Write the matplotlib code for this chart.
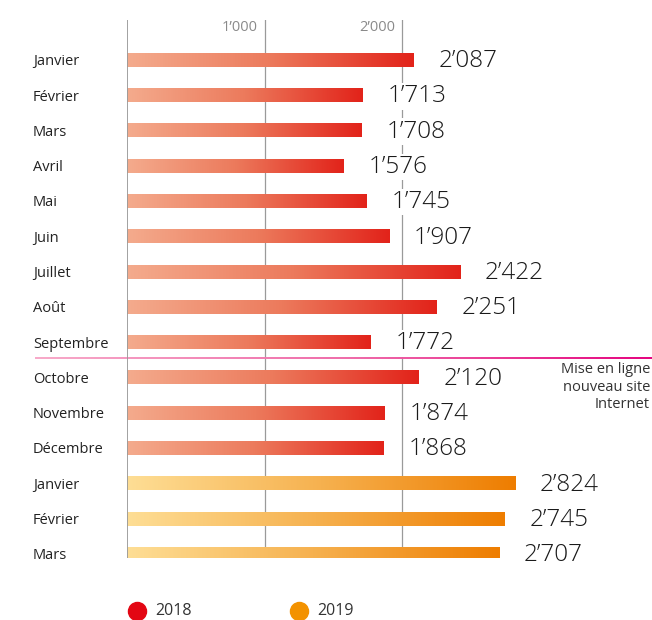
import numpy as np
import matplotlib
matplotlib.use("Agg")
import matplotlib.pyplot as plt
from matplotlib.colors import LinearSegmentedColormap
from matplotlib.collections import LineCollection
from matplotlib.lines import Line2D

months = ["Janvier", "Février", "Mars", "Avril", "Mai", "Juin", "Juillet", "Août",
          "Septembre", "Octobre", "Novembre", "Décembre", "Janvier", "Février", "Mars"]
values = [2087, 1713, 1708, 1576, 1745, 1907, 2422, 2251, 1772, 2120, 1874, 1868,
          2824, 2745, 2707]
years = [2018] * 12 + [2019] * 3
tick_values = [1000, 2000]
legend_years = [2018, 2019]
annotation = "Mise en ligne\nnouveau site\nInternet"

def fmt(v):
    s = f"{v:,}"
    return s.replace(",", "\u2019")

plt.rcParams['font.family'] = ['Open Sans', 'DejaVu Sans']

W, H = 652, 620
fig = plt.figure(figsize=(W / 100, H / 100), dpi=100)
px_per_k = 137.5
x0_px, top_px, bot_px = 127, 20, 558
row0, step = 60, 35.29
ax = fig.add_axes([x0_px / W, 1 - bot_px / H, (W - x0_px) / W, (bot_px - top_px) / H])
xmax = (W - x0_px) / px_per_k * 1000
ylo = -(row0 - top_px) / step
yhi = (len(values) - 1) + (bot_px - (row0 + step * (len(values) - 1))) / step
ax.axis('off')

cmaps = {
    2018: LinearSegmentedColormap.from_list("r", ["#f4ab8d", "#ec7a5c", "#e2231a"]),
    2019: LinearSegmentedColormap.from_list("o", ["#fede95", "#f6b14f", "#ee7d00"]),
}
legend_colors = {2018: "#e30613", 2019: "#f39200"}

# gridlines
for t in tick_values:
    ax.axvline(t, color="#9a9a9a", lw=0.9, zorder=1)
    ax.text(t - 50, ylo + 0.2, fmt(t), ha="right", va="center", fontsize=10.5,
            color="#8a8a8a")
ax.axvline(0, color="#9a9a9a", lw=1.3, zorder=5)

bar_h = 0.39
grad = np.linspace(0, 1, 256).reshape(1, -1)
for i, (v, y) in enumerate(zip(values, years)):
    ax.imshow(grad, cmap=cmaps[y], aspect='auto', extent=[0, v, i + bar_h / 2, i - bar_h / 2],
              zorder=3, interpolation='bilinear')
    ax.text(v + 180, i + 0.03, fmt(v), ha="left", va="center", fontsize=17.5, color="#1a1a1a",
            fontweight="light", zorder=4,
            bbox=dict(boxstyle="square,pad=0.05", fc="white", ec="none"))
    ax.text(-684, i + 0.05, months[i], ha="left", va="center", fontsize=10.5, color="#222222")

ax.set_xlim(0, xmax)
ax.set_ylim(yhi, ylo)

# launch line between Septembre and Octobre
ly = 8.45
xs = np.linspace(-669, xmax, 200)
segs = [[(xs[k], ly), (xs[k + 1], ly)] for k in range(len(xs) - 1)]
pcm = LinearSegmentedColormap.from_list("p", ["#f7a8c8", "#ef6aa8", "#e5007d"])
lc = LineCollection(segs, colors=pcm(np.linspace(0, 1, len(segs))), lw=1.4,
                    clip_on=False, zorder=2)
ax.add_collection(lc)
ax.text(xmax - 15, 9.27, annotation, ha="right", va="center", fontsize=10.5,
        color="#333333", linespacing=1.2)

# legend
for k, yr in enumerate(legend_years):
    xm = (137 + k * 162) / W
    fig.add_artist(Line2D([xm], [1 - 611 / H], marker='o', markersize=13, color=legend_colors[yr],
                          transform=fig.transFigure, lw=0))
    fig.text(xm + 18 / W, 1 - 611 / H, str(yr), ha="left", va="center", fontsize=11.5,
             color="#333333")

fig.savefig("out.png", dpi=100)
